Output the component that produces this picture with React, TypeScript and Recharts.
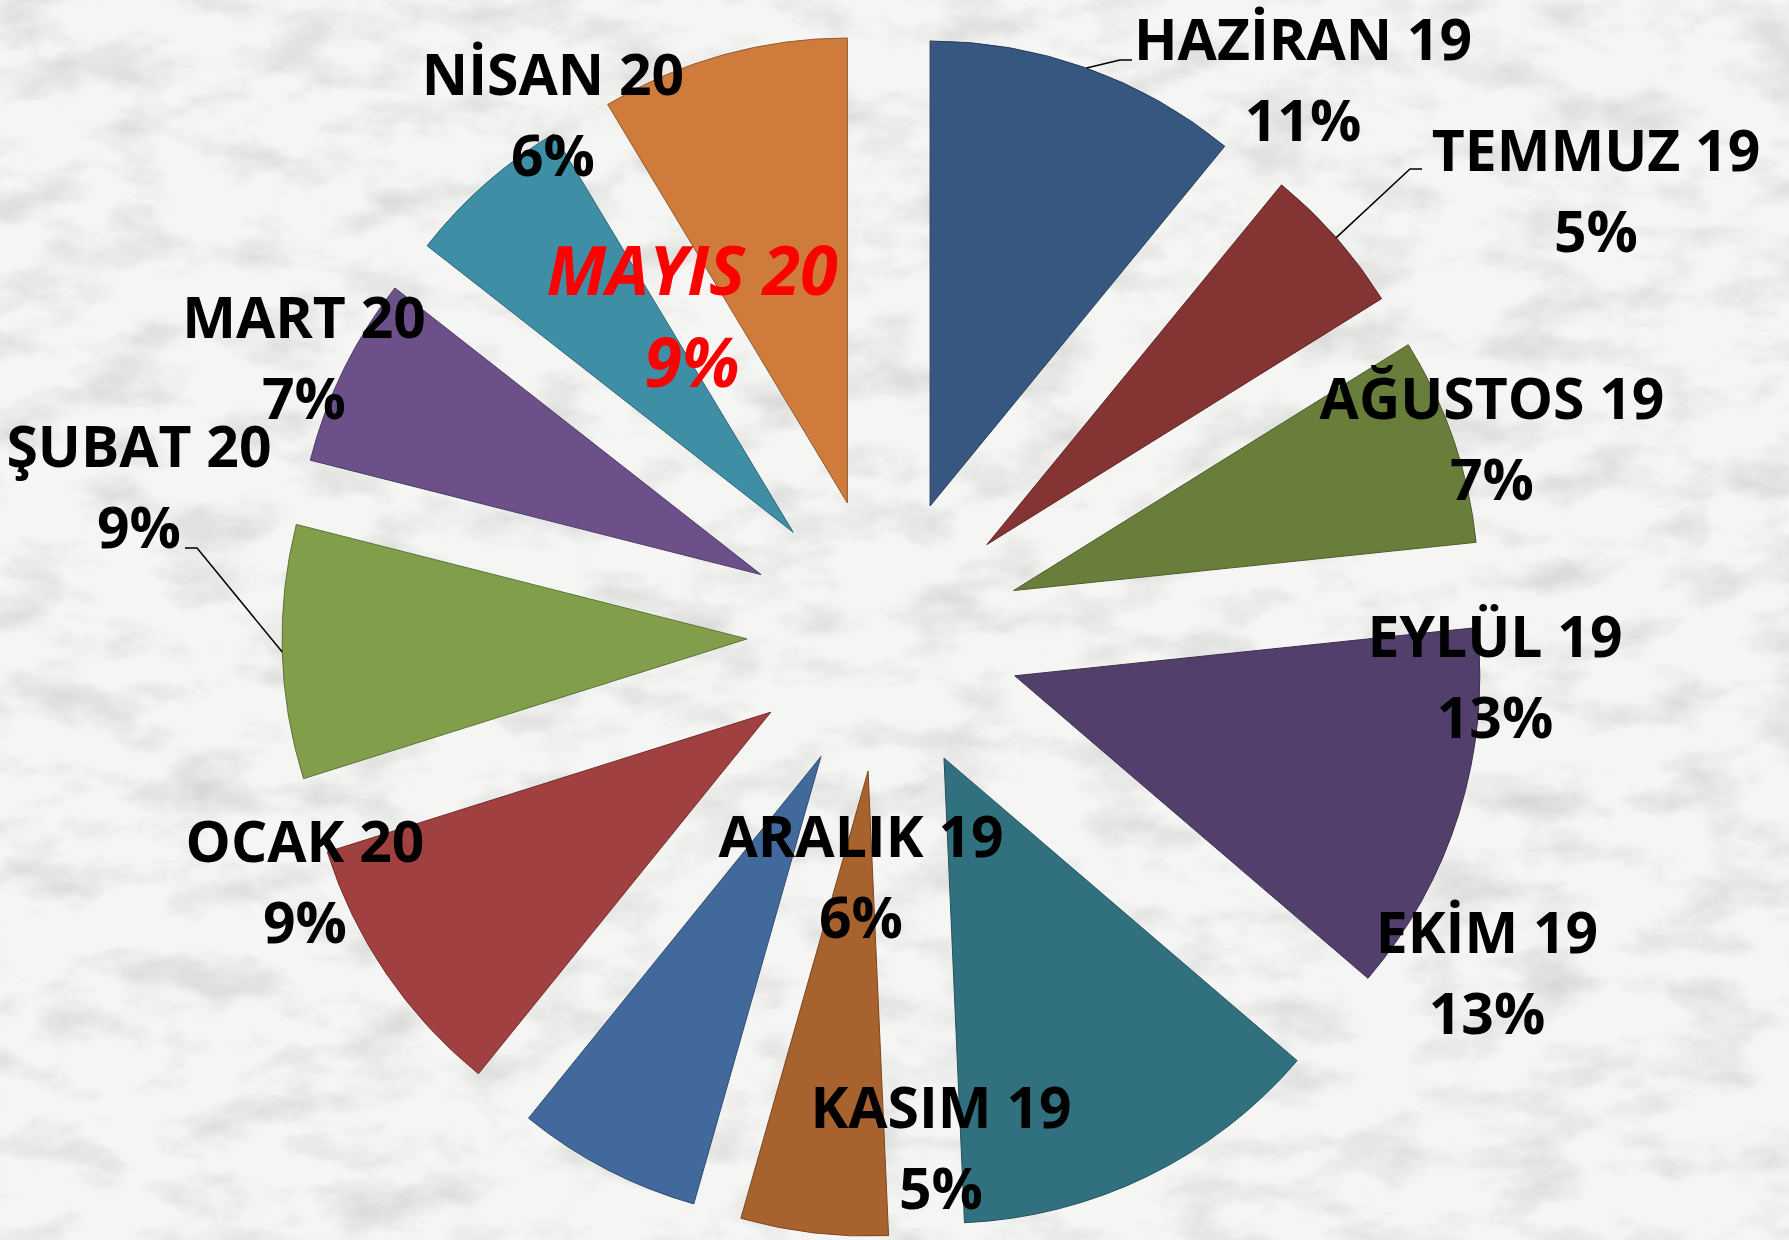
import React from 'react';
import { PieChart, Pie, Cell } from 'recharts';

// ---------- data ----------
const MONTHS = [
  'HAZİRAN 19', 'TEMMUZ 19', 'AĞUSTOS 19', 'EYLÜL 19', 'EKİM 19', 'KASIM 19',
  'ARALIK 19', 'OCAK 20', 'ŞUBAT 20', 'MART 20', 'NİSAN 20', 'MAYIS 20',
];
const SHARES = [10.9, 5.2, 7.2, 12.9, 13.0, 5.1, 6.4, 9.3, 8.8, 6.6, 5.8, 8.6];
const COLORS = [
  '#36577F', '#843533', '#6A7E3B', '#533F6B', '#31717F', '#A8622D',
  '#41699B', '#A04040', '#819E4B', '#6B5089', '#3E8FA5', '#CE7B3B',
];
const HIGHLIGHT = 'MAYIS 20';

// ---------- layout ----------
const W = 1789;
const H = 1240;
const CX = 884;
const CY = 635;
const RADIUS = 465;
const EXPLODE = 137;
const START_ANGLE = 90;
const END_ANGLE = -270;
const RAD = Math.PI / 180;

// label anchor: centre x and first baseline, relative to the pie centre
const LABEL_LAYOUT: { dx: number; dy: number; leader?: [number, number][] }[] = [
  { dx: 419, dy: -575, leader: [[236, -575], [248, -575]] },
  { dx: 712, dy: -464, leader: [[526, -466], [538, -466]] },
  { dx: 608, dy: -216 },
  { dx: 611, dy: 22 },
  { dx: 603, dy: 318 },
  { dx: 57, dy: 493 },
  { dx: -23, dy: 222 },
  { dx: -579, dy: 227 },
  { dx: -745, dy: -168, leader: [[-687, -87], [-699, -87]] },
  { dx: -580, dy: -297 },
  { dx: -331, dy: -540 },
  { dx: -192, dy: -340 },
];

const FONT = "'Open Sans', 'Noto Sans', sans-serif";

const data = MONTHS.map((name, i) => ({ name, value: SHARES[i] }));
const total = SHARES.reduce((a, b) => a + b, 0);

const midAngleOf = (i: number) => {
  const before = SHARES.slice(0, i).reduce((a, b) => a + b, 0);
  return START_ANGLE + ((END_ANGLE - START_ANGLE) * (before + SHARES[i] / 2)) / total;
};

const darker = (hex: string, k = 0.72) => {
  const n = parseInt(hex.slice(1), 16);
  const r = Math.round(((n >> 16) & 255) * k);
  const g = Math.round(((n >> 8) & 255) * k);
  const b = Math.round((n & 255) * k);
  return `rgb(${r},${g},${b})`;
};

const renderLabel = (props: any) => {
  const { index, midAngle, outerRadius, cx, cy, percent, name } = props;
  const lay = LABEL_LAYOUT[index];
  if (!lay) return null;
  const x = CX + lay.dx;
  const y = CY + lay.dy;
  const hi = name === HIGHLIGHT;
  const pct = `${Math.round(percent * 100)}%`;
  let leader = null;
  if (lay.leader) {
    const r = outerRadius + EXPLODE;
    const sx = cx + r * Math.cos(-midAngle * RAD);
    const sy = cy + r * Math.sin(-midAngle * RAD);
    const pts = [[sx, sy], ...lay.leader.map(([a, b]) => [CX + a, CY + b])];
    leader = (
      <polyline
        points={pts.map((p) => p.join(',')).join(' ')}
        fill="none"
        stroke="#000"
        strokeWidth={1.5}
      />
    );
  }
  const common = {
    x,
    textAnchor: 'middle' as const,
    fontFamily: FONT,
    fontWeight: 700,
    fontSize: hi ? 68 : 57,
    fontStyle: hi ? 'italic' : 'normal',
    fill: hi ? '#FF0000' : '#000000',
  };
  return (
    <g key={`lbl-${index}`}>
      {leader}
      <text {...common} y={y}>{name}</text>
      <text {...common} y={y + (hi ? 92 : 81)}>{pct}</text>
    </g>
  );
};

export default function App() {
  return (
    <div style={{ position: 'absolute', left: 0, top: 0, width: W, height: H, overflow: 'hidden' }}>
      <svg width={W} height={H} style={{ position: 'absolute', left: 0, top: 0 }}>
        <defs>
          <filter id="marble" x="0" y="0" width="100%" height="100%">
            <feTurbulence type="fractalNoise" baseFrequency="0.012 0.022" numOctaves={5} seed={11} result="n" />
            <feColorMatrix
              in="n"
              type="matrix"
              values="0 0 0 0 0.55  0 0 0 0 0.55  0 0 0 0 0.54  1.3 0 0 0 -0.6"
            />
          </filter>
        </defs>
        <rect width={W} height={H} fill="#f5f5f3" />
        <rect width={W} height={H} filter="url(#marble)" />
      </svg>
      <PieChart width={W} height={H} margin={{ top: 0, right: 0, bottom: 0, left: 0 }} style={{ position: 'absolute', left: 0, top: 0 }}>
        {MONTHS.map((m, slice) => {
          const mid = midAngleOf(slice) * RAD;
          return (
            <Pie
              key={`slice-${slice}`}
              data={data}
              dataKey="value"
              nameKey="name"
              cx={CX + EXPLODE * Math.cos(mid)}
              cy={CY - EXPLODE * Math.sin(mid)}
              innerRadius={0}
              outerRadius={RADIUS}
              startAngle={START_ANGLE}
              endAngle={END_ANGLE}
              isAnimationActive={false}
              label={false}
              labelLine={false}
            >
              {data.map((d, i) => (
                <Cell
                  key={`c-${slice}-${i}`}
                  fill={i === slice ? COLORS[i] : 'none'}
                  stroke={i === slice ? darker(COLORS[i]) : 'none'}
                  strokeWidth={1}
                />
              ))}
            </Pie>
          );
        })}
        <Pie
          key="labels"
          data={data}
          dataKey="value"
          nameKey="name"
          cx={CX}
          cy={CY}
          innerRadius={0}
          outerRadius={RADIUS}
          startAngle={START_ANGLE}
          endAngle={END_ANGLE}
          isAnimationActive={false}
          labelLine={false}
          label={renderLabel}
        >
          {data.map((d, i) => (
            <Cell key={`l-${i}`} fill="none" stroke="none" />
          ))}
        </Pie>
      </PieChart>
    </div>
  );
}
